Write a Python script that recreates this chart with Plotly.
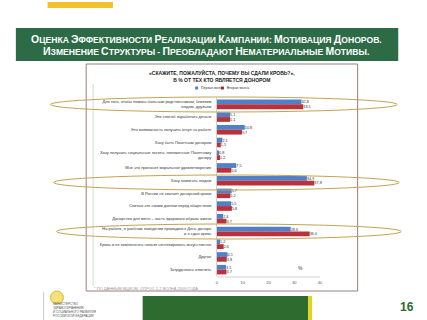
import plotly.graph_objects as go

W, H = 427, 320

categories = [
    "Для того, чтобы помочь больным родственникам, близким<br>людям, друзьям",
    "Это способ заработать деньги",
    "Это возможность получить отгул на работе",
    "Хочу быть Почетным донором",
    "Хочу получать социальные льготы, положенные Почетному<br>донору",
    "Мне это приносит моральное удовлетворение",
    "Хочу помогать людям",
    "В России не хватает донорской крови",
    "Считаю это своим долгом перед обществом",
    "Донорство для меня – часть здорового образа жизни",
    "На работе, в учебном заведении проводился День донора<br>и я сдал кровь",
    "Кровь и ее компоненты нельзя синтезировать искусственно",
    "Другое",
    "Затрудняюсь ответить",
]
wave1 = [32.8, 5.1, 10.8, 2.1, 0.8, 7.5, 34.9, 5.7, 5.5, 2.4, 28.6, 1.2, 4.1, 3.5]
wave2 = [33.5, 5.1, 9.7, 1.5, 1.2, 5.6, 37.8, 5.2, 5.8, 3.7, 36.0, 2.6, 3.8, 3.7]
x_ticks = [0, 10, 20, 30, 40]
series_names = ["Первая волна", "Вторая волна"]
series_colors = ["#4f80c9", "#b9323a"]

def px_x(x):
    return x / W

def px_y(y):
    return 1 - y / H

def fmt(v):
    return f"{v:.1f}".replace(".", ",")

fig = go.Figure()
for name, vals, col in zip(series_names, [wave1, wave2], series_colors):
    fig.add_trace(go.Bar(
        y=categories, x=vals, name=name, orientation="h",
        marker=dict(color=col, line=dict(width=0)),
        text=[fmt(v) for v in vals], textposition="outside",
        textfont=dict(size=4, color="#333333"), cliponaxis=False,
    ))

shapes = []
shapes.append(dict(type="rect", xref="paper", yref="paper", x0=px_x(47), x1=px_x(113), y0=px_y(8), y1=px_y(2),
                   fillcolor="#f2c12e", line=dict(width=0), layer="below"))
shapes.append(dict(type="rect", xref="paper", yref="paper", x0=px_x(15), x1=px_x(401), y0=px_y(61), y1=px_y(28),
                   fillcolor="#2d6b46", line=dict(width=0), layer="below"))
shapes.append(dict(type="rect", xref="paper", yref="paper", x0=px_x(86), x1=px_x(360), y0=px_y(291), y1=px_y(64),
                   fillcolor="white", line=dict(width=1, color="#9c7c7c"), layer="below"))
shapes.append(dict(type="line", xref="paper", yref="paper", x0=px_x(93), x1=px_x(93), y0=px_y(286), y1=px_y(84),
                   line=dict(width=1, color="#d8d8d8"), layer="below"))
shapes.append(dict(type="rect", xref="paper", yref="paper", x0=px_x(143), x1=px_x(310), y0=0, y1=px_y(296),
                   fillcolor="#2d6b2f", line=dict(width=0), layer="below"))
shapes.append(dict(type="rect", xref="paper", yref="paper", x0=px_x(310), x1=px_x(314), y0=0, y1=px_y(296),
                   fillcolor="#e6d21e", line=dict(width=0), layer="below"))
shapes.append(dict(type="line", xref="paper", yref="paper", x0=px_x(43), x1=px_x(43), y0=0, y1=px_y(292),
                   line=dict(width=1, color="#cccccc")))
shapes.append(dict(type="circle", xref="paper", yref="paper", x0=px_x(50), x1=px_x(63), y0=px_y(304), y1=px_y(291),
                   fillcolor="#f3e27a", line=dict(width=1, color="#d9b93a")))
for (x0, x1, y0, y1) in [(50, 400, 97, 112), (53, 402, 175, 190), (56, 404, 224, 239)]:
    shapes.append(dict(type="circle", xref="paper", yref="paper", x0=px_x(x0), x1=px_x(x1), y0=px_y(y1), y1=px_y(y0),
                       line=dict(width=1, color="#c2a450"), fillcolor="rgba(0,0,0,0)"))
shapes.append(dict(type="line", xref="paper", yref="paper", x0=px_x(218), x1=px_x(322), y0=px_y(277), y1=px_y(277),
                   line=dict(width=1, color="#d0d0d0"), layer="below"))

# manual legend
legend_x = [196, 222]
for lx, col in zip(legend_x, series_colors):
    shapes.append(dict(type="rect", xref="paper", yref="paper", x0=px_x(lx), x1=px_x(lx + 3), y0=px_y(89.5), y1=px_y(86.5),
                       fillcolor=col, line=dict(width=0)))

def sc(text, big=10.5, small=8.6):
    words = text.split(" ")
    out = []
    for w in words:
        if w and w[0].isalpha():
            out.append(f"<span style='font-size:{big}px'>{w[0]}</span><span style='font-size:{small}px'>{w[1:]}</span>")
        else:
            out.append(f"<span style='font-size:{small}px'>{w}</span>")
    return " ".join(out)

annotations = [
    dict(x=px_x(207), y=px_y(38.5), xref="paper", yref="paper", showarrow=False, xanchor="center", yanchor="middle",
         text="<b>" + sc("ОЦЕНКА ЭФФЕКТИВНОСТИ РЕАЛИЗАЦИИ КАМПАНИИ: МОТИВАЦИЯ ДОНОРОВ.") + "</b>",
         font=dict(family="Liberation Sans, Arial", color="white", size=8)),
    dict(x=px_x(207), y=px_y(51), xref="paper", yref="paper", showarrow=False, xanchor="center", yanchor="middle",
         text="<b>" + sc("ИЗМЕНЕНИЕ СТРУКТУРЫ - ПРЕОБЛАДАЮТ НЕМАТЕРИАЛЬНЫЕ МОТИВЫ.") + "</b>",
         font=dict(family="Liberation Sans, Arial", color="white", size=8)),
    dict(x=px_x(223), y=px_y(76), xref="paper", yref="paper", showarrow=False, xanchor="center", yanchor="middle",
         text="<b>«СКАЖИТЕ, ПОЖАЛУЙСТА, ПОЧЕМУ ВЫ СДАЛИ КРОВЬ?»,<br>В % ОТ ТЕХ КТО ЯВЛЯЕТСЯ ДОНОРОМ</b>",
         font=dict(family="Liberation Sans, Arial", color="#222222", size=5)),
    dict(x=px_x(302), y=px_y(268), xref="paper", yref="paper", showarrow=False, xanchor="center", yanchor="middle",
         text="%", font=dict(family="Liberation Sans, Arial", color="#444444", size=5)),
    dict(x=px_x(92), y=px_y(288), xref="paper", yref="paper", showarrow=False, xanchor="left", yanchor="middle",
         text="* ПО ДАННЫМ ВЦИОМ, ОПРОС 1-2 ВОЛНА 2009 ГОДА",
         font=dict(family="Liberation Sans, Arial", color="#999999", size=4)),
    dict(x=px_x(50), y=px_y(310), xref="paper", yref="paper", showarrow=False, xanchor="left", yanchor="middle",
         align="left",
         text="МИНИСТЕРСТВО<br>ЗДРАВООХРАНЕНИЯ<br>И СОЦИАЛЬНОГО РАЗВИТИЯ<br>РОССИЙСКОЙ ФЕДЕРАЦИИ",
         font=dict(family="Liberation Sans, Arial", color="#555555", size=3)),
    dict(x=px_x(410), y=px_y(307), xref="paper", yref="paper", showarrow=False, xanchor="center", yanchor="middle",
         text="<b>16</b>", font=dict(family="Liberation Sans, Arial", color="#2d6b2f", size=12)),
]
for lx, name in zip(legend_x, series_names):
    annotations.append(dict(x=px_x(lx + 4), y=px_y(88), xref="paper", yref="paper", showarrow=False,
                            xanchor="left", yanchor="middle", text=name,
                            font=dict(family="Liberation Sans, Arial", color="#333333", size=3.5)))

fig.update_layout(
    width=W, height=H, margin=dict(l=0, r=0, t=0, b=0),
    paper_bgcolor="white", plot_bgcolor="rgba(0,0,0,0)",
    barmode="group", bargap=0.25, bargroupgap=0.0,
    font=dict(family="Liberation Sans, Arial", size=4, color="#333333"),
    showlegend=False,
    xaxis=dict(domain=[px_x(218), px_x(322)], range=[0, 40], tickvals=x_ticks, showgrid=False,
               zeroline=False, showline=False, ticks="", tickfont=dict(size=4, color="#555555"),
               ticklabelstandoff=3),
    yaxis=dict(domain=[px_y(276), px_y(98)], autorange="reversed", showgrid=False, zeroline=False,
               showline=True, linecolor="#d0d0d0", linewidth=1, ticks="",
               tickfont=dict(size=4, color="#333333"), ticklabelstandoff=4),
    shapes=shapes, annotations=annotations,
)

fig.write_html("out.html")
